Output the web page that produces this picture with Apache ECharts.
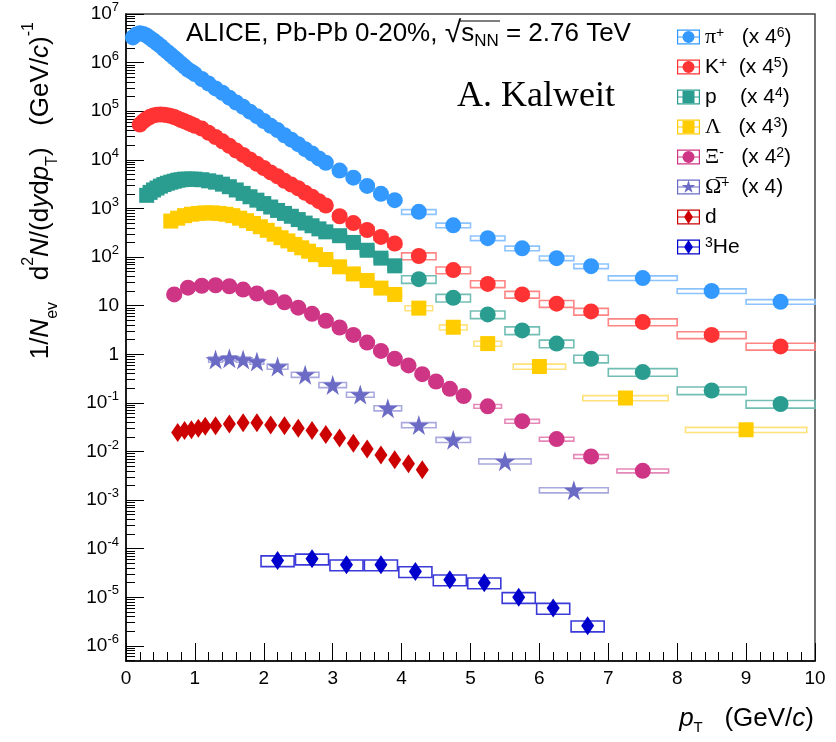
<!DOCTYPE html>
<html><head><meta charset="utf-8">
<script src="https://cdn.jsdelivr.net/npm/echarts@6/dist/echarts.min.js"></script>
<style>html,body{margin:0;padding:0;background:#fff}#chart{width:836px;height:742px}</style>
</head><body><div id="chart"></div>
<script>
// ---------------- data ----------------
const xTicks = [0,1,2,3,4,5,6,7,8,9,10];
const yDecades = [1e-6,1e-5,1e-4,1e-3,1e-2,1e-1,1,10,1e2,1e3,1e4,1e5,1e6,1e7];

const piPt = [0.1,0.15,0.2,0.25,0.3,0.35,0.4,0.45,0.5,0.55,0.6,0.65,0.7,0.75,0.8,0.85,0.9,0.95,1.0,
  1.1,1.2,1.3,1.4,1.5,1.6,1.7,1.8,1.9,2.0,2.1,2.2,2.3,2.4,2.5,2.6,2.7,2.8,2.9,
  3.1,3.3,3.5,3.7,3.9,4.25,4.75,5.25,5.75,6.25,6.75,7.5,8.5,9.5];
const piVal = [3.3e6,3.8e6,4.0e6,3.9e6,3.6e6,3.2e6,2.85e6,2.5e6,2.2e6,1.9e6,1.66e6,1.45e6,1.26e6,1.1e6,9.5e5,8.3e5,7.2e5,6.5e5,5.8e5,
  4.6e5,3.7e5,2.95e5,2.4e5,1.9e5,1.51e5,1.23e5,9.8e4,7.9e4,6.3e4,5.0e4,4.1e4,3.2e4,2.6e4,2.1e4,1.66e4,1.35e4,1.07e4,8.7e3,
  6.0e3,4.3e3,2.9e3,2.0e3,1.48e3,850,450,245,151,95,65,37,20,12];
const piHw = [0.025,0.025,0.025,0.025,0.025,0.025,0.025,0.025,0.025,0.025,0.025,0.025,0.025,0.025,0.025,0.025,0.025,0.025,0.025,
  0.05,0.05,0.05,0.05,0.05,0.05,0.05,0.05,0.05,0.05,0.05,0.05,0.05,0.05,0.05,0.05,0.05,0.05,0.05,
  0.1,0.1,0.1,0.1,0.1,0.25,0.25,0.25,0.25,0.25,0.25,0.5,0.5,0.5];
const piSys = 0.11;

const kPt = [0.2,0.25,0.3,0.35,0.4,0.45,0.5,0.55,0.6,0.65,0.7,0.75,0.8,0.85,0.9,0.95,1.0,
  1.1,1.2,1.3,1.4,1.5,1.6,1.7,1.8,1.9,2.0,2.1,2.2,2.3,2.4,2.5,2.6,2.7,2.8,2.9,
  3.1,3.3,3.5,3.7,3.9,4.25,4.75,5.25,5.75,6.25,6.75,7.5,8.5,9.5];
const kVal = [5.3e4,6.2e4,7.0e4,7.7e4,8.2e4,8.5e4,8.6e4,8.5e4,8.3e4,8.0e4,7.6e4,7.1e4,6.6e4,6.2e4,5.8e4,5.4e4,5.0e4,
  4.4e4,3.6e4,2.95e4,2.4e4,1.95e4,1.55e4,1.26e4,1.02e4,8.3e3,6.8e3,5.5e3,4.6e3,3.7e3,3.1e3,2.6e3,2.1e3,1.74e3,1.41e3,1.15e3,
  690,500,360,260,190,105,54,28,17,11,7.6,4.6,2.5,1.45];
const kHw = [0.025,0.025,0.025,0.025,0.025,0.025,0.025,0.025,0.025,0.025,0.025,0.025,0.025,0.025,0.025,0.025,0.025,
  0.05,0.05,0.05,0.05,0.05,0.05,0.05,0.05,0.05,0.05,0.05,0.05,0.05,0.05,0.05,0.05,0.05,0.05,0.05,
  0.1,0.1,0.1,0.1,0.1,0.25,0.25,0.25,0.25,0.25,0.25,0.5,0.5,0.5];
const kSys = 0.16;

const pPt = [0.3,0.35,0.4,0.45,0.5,0.55,0.6,0.65,0.7,0.75,0.8,0.85,0.9,0.95,1.0,
  1.1,1.2,1.3,1.4,1.5,1.6,1.7,1.8,1.9,2.0,2.1,2.2,2.3,2.4,2.5,2.6,2.7,2.8,2.9,
  3.1,3.3,3.5,3.7,3.9,4.25,4.75,5.25,5.75,6.25,6.75,7.5,8.5,9.5];
const pVal = [1.86e3,2.14e3,2.4e3,2.63e3,2.88e3,3.1e3,3.3e3,3.47e3,3.63e3,3.8e3,3.9e3,4.0e3,4.0e3,4.0e3,4.0e3,
  3.9e3,3.7e3,3.47e3,3.16e3,2.8e3,2.4e3,2.04e3,1.74e3,1.48e3,1.26e3,1.07e3,910,790,690,590,500,440,380,330,
  275,200,138,95,66,35,14.5,6.6,3.1,1.66,0.81,0.43,0.18,0.095];
const pHw = [0.025,0.025,0.025,0.025,0.025,0.025,0.025,0.025,0.025,0.025,0.025,0.025,0.025,0.025,0.025,
  0.05,0.05,0.05,0.05,0.05,0.05,0.05,0.05,0.05,0.05,0.05,0.05,0.05,0.05,0.05,0.05,0.05,0.05,0.05,
  0.1,0.1,0.1,0.1,0.1,0.25,0.25,0.25,0.25,0.25,0.25,0.5,0.5,0.5];
const pSys = 0.18;

const lamPt = [0.65,0.75,0.85,0.95,1.05,1.15,1.25,1.35,1.45,1.55,1.65,1.75,1.85,1.95,2.05,2.15,2.25,2.35,2.45,2.55,2.65,2.75,
  2.9,3.1,3.3,3.5,3.7,3.9,4.25,4.75,5.25,6.0,7.25,9.0];
const lamVal = [550,630,710,760,790,810,810,790,760,710,630,560,490,420,355,295,250,215,182,155,132,112,
  89,63,45,33,23,17,8.9,3.6,1.66,0.56,0.126,0.028];
const lamHw = [0.05,0.05,0.05,0.05,0.05,0.05,0.05,0.05,0.05,0.05,0.05,0.05,0.05,0.05,0.05,0.05,0.05,0.05,0.05,0.05,0.05,0.05,
  0.1,0.1,0.1,0.1,0.1,0.1,0.2,0.2,0.2,0.38,0.62,0.88];
const lamSys = 0.12;

const xiPt = [0.7,0.9,1.1,1.3,1.5,1.7,1.9,2.1,2.3,2.5,2.7,2.9,3.1,3.3,3.5,3.7,3.9,4.1,4.3,4.5,4.7,4.9,5.25,5.75,6.25,6.75,7.5];
const xiVal = [17,23.4,25.7,26.3,25.1,21.4,17.8,14.8,11.7,9.1,6.8,4.9,3.55,2.5,1.74,1.17,0.81,0.59,0.39,0.275,0.195,0.138,
  0.085,0.042,0.018,0.0079,0.004];
const xiHw = [0.1,0.1,0.1,0.1,0.1,0.1,0.1,0.1,0.1,0.1,0.1,0.1,0.1,0.1,0.1,0.1,0.1,0.1,0.1,0.1,0.1,0.1,0.2,0.25,0.25,0.25,0.375];
const xiSys = 0.09;

const omPt = [1.3,1.5,1.7,1.9,2.2,2.6,3.0,3.4,3.8,4.25,4.75,5.5,6.5];
const omVal = [0.78,0.83,0.78,0.71,0.56,0.38,0.234,0.148,0.078,0.035,0.0174,0.0063,0.0016];
const omHw = [0.1,0.1,0.1,0.1,0.15,0.2,0.2,0.2,0.2,0.25,0.25,0.38,0.5];
const omSys = 0.12;

const dPt = [0.75,0.85,0.95,1.05,1.15,1.3,1.5,1.7,1.9,2.1,2.3,2.5,2.7,2.9,3.1,3.3,3.5,3.7,3.9,4.1,4.3];
const dVal = [0.0245,0.027,0.028,0.030,0.033,0.034,0.037,0.039,0.039,0.035,0.034,0.030,0.027,0.0224,0.019,0.0148,
  0.0112,0.0085,0.0068,0.0056,0.0042];

const hePt = [2.2,2.7,3.2,3.7,4.2,4.7,5.2,5.7,6.2,6.7];
const heVal = [5.7e-5,6.2e-5,4.7e-5,4.7e-5,3.4e-5,2.3e-5,2.0e-5,1.0e-5,6.0e-6,2.6e-6];
const heHw = [0.24,0.24,0.24,0.24,0.24,0.24,0.24,0.24,0.24,0.24];
const heSys = 0.25;

// ---------------- styling ----------------
const FONT = "'Liberation Sans', Arial, Helvetica, sans-serif";
const SERIF = "'Liberation Serif', 'Times New Roman', serif";
const STAR = 'path://M50,0 L61.23,34.55 L97.55,34.55 L68.17,55.9 L79.39,90.45 L50,69.1 L20.61,90.45 L31.83,55.9 L2.45,34.55 L38.77,34.55 Z';

const RING = 'M0,0 H23 V15 H0 Z M1.2,1.2 V13.8 H21.8 V1.2 Z M1.2,6.9 H21.8 V8.1 H1.2 Z ';
const ICON = {
  circle: 'path://' + RING + 'M5.5,7.5 A6,6 0 1,1 17.5,7.5 A6,6 0 1,1 5.5,7.5 Z',
  square: 'path://' + RING + 'M5.5,1.5 H17.5 V13.5 H5.5 Z',
  star: 'path://' + RING + 'M11.5,0.6 L13.07,5.44 L18.16,5.44 L14.04,8.43 L15.61,13.26 L11.5,10.27 L7.39,13.26 L8.96,8.43 L4.84,5.44 L9.93,5.44 Z',
  diamond: 'path://' + RING + 'M11.5,0.5 L16,7.5 L11.5,14.5 L7,7.5 Z'
};

const species = [
  {name:'π+',  pt:piPt,  val:piVal,  hw:piHw,  sys:piSys,  color:'#3399ff', box:'#8cc3ff', symbol:'circle', size:16, icon:'circle',
   label:'{g|π}{sup|+}   (x 4{sup|6})'},
  {name:'K+',  pt:kPt,   val:kVal,   hw:kHw,   sys:kSys,   color:'#ff3333', box:'#ff8585', symbol:'circle', size:16, icon:'circle',
   label:'K{sup|+}  (x 4{sup|5})'},
  {name:'p',   pt:pPt,   val:pVal,   hw:pHw,   sys:pSys,   color:'#2a9d90', box:'#72beb4', symbol:function (v) { return v[0] > 4 ? 'circle' : 'rect'; },
   size:function (v) { return v[0] > 4 ? 16 : 15; }, icon:'square', label:'p    (x 4{sup|4})'},
  {name:'Λ',   pt:lamPt, val:lamVal, hw:lamHw, sys:lamSys, color:'#ffcc00', box:'#ffe27a', symbol:'rect', size:15, icon:'square',
   label:'{g|Λ}   (x 4{sup|3})'},
  {name:'Ξ-',  pt:xiPt,  val:xiVal,  hw:xiHw,  sys:xiSys,  color:'#cf3585', box:'#e588b8', symbol:'circle', size:16, icon:'circle',
   label:'{g|Ξ}{sup|-}   (x 4{sup|2})'},
  {name:'Ω+',  pt:omPt,  val:omVal,  hw:omHw,  sys:omSys,  color:'#6b6bc6', box:'#a9a9e0', symbol:STAR, size:20, icon:'star',
   label:'{g|Ω\u0305}{sup|+}  (x 4)'},
  {name:'d',   pt:dPt,   val:dVal,   hw:null,  sys:0,      color:'#cc0000', box:'#dd5555', symbol:'diamond', size:[13,19], icon:'diamond',
   label:'d'},
  {name:'3He', pt:hePt,  val:heVal,  hw:heHw,  sys:heSys,  color:'#0000cc', box:'#3a3ad8', symbol:'diamond', size:[13,19], icon:'diamond',
   label:'{sup|3}He'}
];

// minor ticks of the log axis (2..9 x decade)
const yMinor = [];
[1e-7].concat(yDecades.slice(0, -1)).forEach(function (d) {
  for (let k = 2; k <= 9; k++) { const v = d * k; if (v >= 4.9e-7 && v < 1e7) yMinor.push(v); }
});

const series = [];
species.forEach(function (s) {
  if (s.hw) {
    series.push({
      type:'custom', name:s.name + ' sys', z:1, silent:true,
      encode:{x:0, y:1},
      data:s.pt.map(function (x, i) { return [x, s.val[i], s.hw[i], s.sys]; }),
      renderItem:function (params, api) {
        const x = api.value(0), y = api.value(1), hw = api.value(2), sy = api.value(3);
        const a = api.coord([x - hw, y * (1 + sy)]);
        const b = api.coord([x + hw, y * (1 - sy)]);
        return {type:'rect', shape:{x:a[0], y:a[1], width:b[0]-a[0], height:b[1]-a[1]},
          style:{fill:'rgba(255,255,255,0)', stroke:s.box, lineWidth:1.6}};
      }
    });
  }
  series.push({
    type:'scatter', name:s.name, z:3,
    symbol:s.symbol, symbolSize:s.size,
    itemStyle:{color:s.color, opacity:1},
    data:s.pt.map(function (x, i) { return [x, s.val[i]]; })
  });
});

const labelMap = {};
species.forEach(function (s) { labelMap[s.name] = s.label; });

const chart = echarts.init(document.getElementById('chart'));
chart.setOption({
  animation:false,
  backgroundColor:'#ffffff',
  grid:{left:126, right:21, top:14, bottom:81, containLabel:false, outerBoundsMode:'none',
    show:true, borderColor:'#444', borderWidth:1.5, backgroundColor:'rgba(0,0,0,0)'},
  legend:{
    orient:'vertical', left:672, top:21, itemWidth:23, itemHeight:15, itemGap:8, selectedMode:false,
    data:species.map(function (s) { return {name:s.name, icon:ICON[s.icon]}; }),
    formatter:function (n) { return labelMap[n]; },
    textStyle:{fontFamily:FONT, fontSize:21, color:'#000', lineHeight:22,
      rich:{
        g:{fontFamily:SERIF, fontSize:22, color:'#000', lineHeight:22},
        sup:{fontFamily:FONT, fontSize:14, color:'#000', lineHeight:12, verticalAlign:'top'}
      }}
  },
  xAxis:{
    type:'value', min:0, max:10, interval:1,
    axisLine:{show:true, onZero:false, lineStyle:{color:'#000', width:1.5}},
    axisTick:{show:true, inside:true, length:18, lineStyle:{color:'#000', width:1}},
    minorTick:{show:true, splitNumber:5, length:9, lineStyle:{color:'#000', width:1}},
    axisLabel:{fontFamily:FONT, fontSize:19, color:'#000', margin:8,
      formatter:function (v) { return xTicks.indexOf(v) >= 0 ? String(v) : ''; }},
    splitLine:{show:false}
  },
  yAxis:[{
    type:'log', min:4.9e-7, max:1e7,
    axisLine:{show:true, lineStyle:{color:'#000', width:1.5}},
    axisTick:{show:true, inside:true, length:18, customValues:yDecades, lineStyle:{color:'#000', width:1}},
    axisLabel:{customValues:yDecades, fontFamily:FONT, fontSize:19, color:'#000', margin:7, lineHeight:26,
      formatter:function (v) {
        const e = Math.round(Math.log10(v));
        if (e === 0) return '1';
        if (e === 1) return '10';
        return '10{s|' + e + '}';
      },
      rich:{s:{fontFamily:FONT, fontSize:13, lineHeight:12, verticalAlign:'top', color:'#000'}}},
    splitLine:{show:false}, minorTick:{show:false}
  },{
    type:'log', min:4.9e-7, max:1e7, position:'left', offset:0,
    axisLine:{show:false},
    axisTick:{show:true, inside:true, length:9, customValues:yMinor, lineStyle:{color:'#000', width:1}},
    axisLabel:{show:false}, splitLine:{show:false}
  }],
  graphic:[
    {type:'text', x:186, y:34, z:10, style:{
      text:'ALICE, Pb-Pb 0-20%, {r|√}s{sub|NN} = 2.76 TeV',
      fontFamily:FONT, fontSize:26, fill:'#000', lineHeight:32, verticalAlign:'middle', align:'left',
      rich:{r:{fontFamily:FONT, fontSize:30, lineHeight:32, fill:'#000'},
            sub:{fontFamily:FONT, fontSize:17, lineHeight:8, verticalAlign:'bottom', fill:'#000'}}}},
    {type:'line', z:10, shape:{x1:460, y1:21, x2:500, y2:21}, style:{stroke:'#000', lineWidth:1.2}},
    {type:'text', x:457, y:97, z:10, style:{text:'A. Kalweit', fontFamily:SERIF, fontSize:36, fill:'#000',
      verticalAlign:'middle', align:'left'}},
    {type:'text', x:41, y:22, rotation:Math.PI/2, z:10, style:{
      text:'1/{i|N}{sub|ev}   d{sup|2}{i|N}/(d{i|y}d{i|p}{sub|T})   (GeV/{i|c}){sup|-1}',
      fontFamily:FONT, fontSize:26, fill:'#000', lineHeight:40, align:'right', verticalAlign:'middle',
      rich:{i:{fontFamily:FONT, fontStyle:'italic', fontSize:26, lineHeight:40, fill:'#000'},
            sub:{fontFamily:FONT, fontSize:16, lineHeight:10, verticalAlign:'bottom', fill:'#000'},
            sup:{fontFamily:FONT, fontSize:16, lineHeight:10, verticalAlign:'top', fill:'#000'}}}},
    {type:'text', x:814, y:719, z:10, style:{
      text:'{i|p}{sub|T}   (GeV/{i|c})',
      fontFamily:FONT, fontSize:26, fill:'#000', lineHeight:32, align:'right', verticalAlign:'middle',
      rich:{i:{fontFamily:FONT, fontStyle:'italic', fontSize:26, lineHeight:32, fill:'#000'},
            sub:{fontFamily:FONT, fontSize:15, lineHeight:8, verticalAlign:'bottom', fill:'#000'}}}}
  ],
  series:series
});
</script></body></html>
